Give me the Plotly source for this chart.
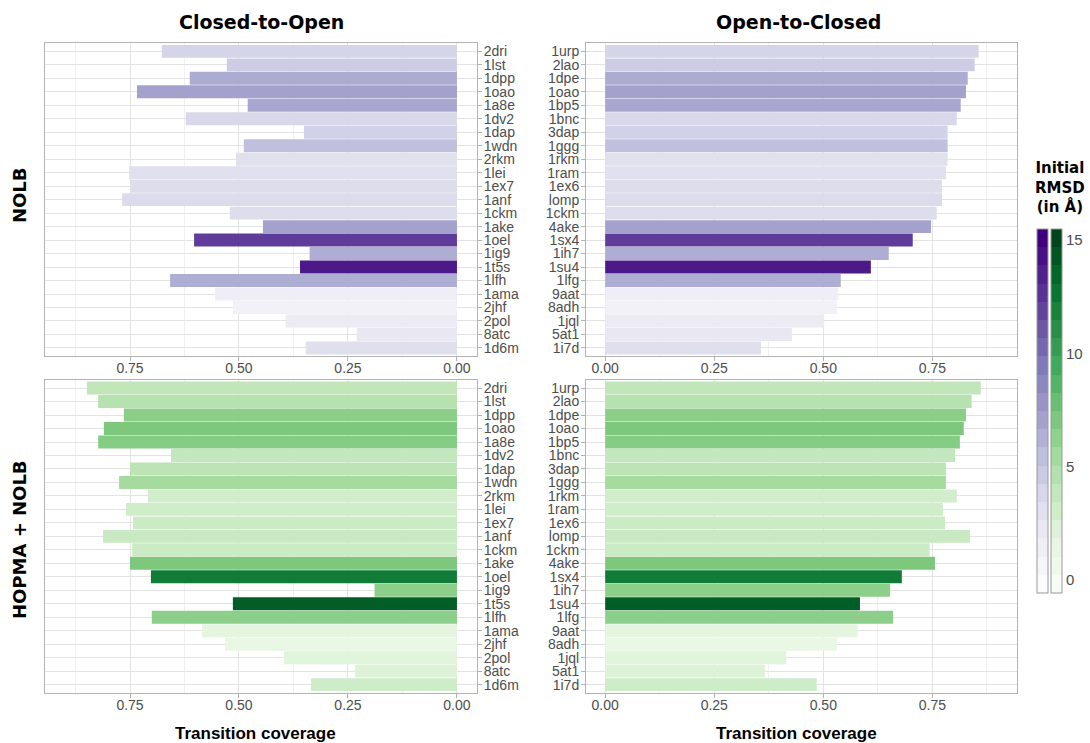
import plotly.graph_objects as go

# ---------------- data ----------------
co_labels = ['2dri', '1lst', '1dpp', '1oao', '1a8e', '1dv2', '1dap', '1wdn', '2rkm', '1lei', '1ex7', '1anf',
             '1ckm', '1ake', '1oel', '1ig9', '1t5s', '1lfh', '1ama', '2jhf', '2pol', '8atc', '1d6m']
oc_labels = ['1urp', '2lao', '1dpe', '1oao', '1bp5', '1bnc', '3dap', '1ggg', '1rkm', '1ram', '1ex6', 'lomp',
             '1ckm', '4ake', '1sx4', '1ih7', '1su4', '1lfg', '9aat', '8adh', '1jql', '5at1', '1i7d']
rmsd = [4.1, 4.6, 6.6, 7.1, 6.8, 3.9, 4.3, 5.4, 3.1, 3.2, 3.5, 3.7,
        3.5, 7.1, 12.2, 6.5, 13.8, 6.5, 1.9, 1.4, 2.1, 2.4, 3.3]
nolb_co = [0.677, 0.528, 0.613, 0.734, 0.480, 0.622, 0.351, 0.489, 0.507, 0.752, 0.749, 0.768,
           0.521, 0.445, 0.603, 0.338, 0.360, 0.658, 0.555, 0.514, 0.393, 0.230, 0.347]
nolb_oc = [0.856, 0.847, 0.831, 0.827, 0.815, 0.806, 0.785, 0.785, 0.785, 0.781, 0.772, 0.772,
           0.760, 0.747, 0.705, 0.650, 0.609, 0.540, 0.534, 0.531, 0.502, 0.428, 0.357]
hop_co = [0.849, 0.823, 0.764, 0.810, 0.823, 0.656, 0.750, 0.775, 0.709, 0.759, 0.743, 0.812,
          0.745, 0.750, 0.702, 0.189, 0.514, 0.700, 0.585, 0.532, 0.397, 0.234, 0.335]
hop_oc = [0.861, 0.840, 0.827, 0.822, 0.813, 0.802, 0.781, 0.781, 0.806, 0.774, 0.779, 0.836,
          0.744, 0.756, 0.680, 0.653, 0.584, 0.660, 0.579, 0.531, 0.415, 0.366, 0.485]
x_ticks = [0, 0.25, 0.5, 0.75]
cbar_ticks = [0, 5, 10, 15]

# ---------------- styling ----------------
# body margin is removed by a small post script, so the figure fills the window
OFF = 0
W, H = 1090, 743
purples = ['#fcfbfd', '#efedf5', '#dadaeb', '#bcbddc', '#9e9ac8', '#807dba', '#6a51a3', '#54278f', '#3f007d']
greens = ['#f7fcf5', '#e5f5e0', '#c7e9c0', '#a1d99b', '#74c476', '#41ab5d', '#238b45', '#006d2c', '#00441b']


def hex2rgb(h):
    return tuple(int(h[i:i + 2], 16) for i in (1, 3, 5))


def interp(pal, t):
    n = len(pal) - 1
    p = t * n
    i = min(int(p), n - 1)
    f = p - i
    a, b = hex2rgb(pal[i]), hex2rgb(pal[i + 1])
    c = [round(a[k] + (b[k] - a[k]) * f) for k in range(3)]
    return 'rgb(%d,%d,%d)' % tuple(c)


def smooth(pal):
    n = len(pal) - 1
    return [[i / n, c] for i, c in enumerate(pal)]


def stepped(pal, nbin=20):
    sc = []
    for i in range(nbin):
        c = interp(pal, i / (nbin - 1))
        sc.append([i / nbin, c])
        sc.append([(i + 1) / nbin, c])
    return sc


def px_x(p):
    return (p - OFF) / W


def px_y(p):
    return 1 - (p - OFF) / H


TICK_FONT = dict(family='Liberation Sans, Arial, sans-serif', size=14, color='#4d4d4d')
GRID = '#e3e3e3'
MINOR = '#f0f0f0'
BORDER = '#b3b3b3'

fig = go.Figure()

panels = [
    (nolb_co, co_labels, 'coloraxis', 'x', 'y'),
    (nolb_oc, oc_labels, 'coloraxis', 'x2', 'y2'),
    (hop_co, co_labels, 'coloraxis2', 'x3', 'y3'),
    (hop_oc, oc_labels, 'coloraxis2', 'x4', 'y4'),
]
for vals, labs, cax, xa, ya in panels:
    fig.add_trace(go.Bar(
        x=vals, y=labs, orientation='h',
        marker=dict(color=rmsd, coloraxis=cax, line=dict(width=0)),
        xaxis=xa, yaxis=ya, showlegend=False,
        hovertemplate='%{y}: %{x:.3f}<extra></extra>'))

# dummy traces carrying the stepped colourbars
fig.add_trace(go.Scatter(x=[None], y=[None], mode='markers',
                         marker=dict(color=[0], coloraxis='coloraxis3'),
                         showlegend=False, hoverinfo='skip', xaxis='x', yaxis='y'))
fig.add_trace(go.Scatter(x=[None], y=[None], mode='markers',
                         marker=dict(color=[0], coloraxis='coloraxis4'),
                         showlegend=False, hoverinfo='skip', xaxis='x', yaxis='y'))

left_dom = [px_x(45), px_x(477)]
right_dom = [px_x(586), px_x(1017)]
top_dom = [px_y(356), px_y(43.3)]
bot_dom = [px_y(692.7), px_y(380)]


def xaxis(dom, rng, anchor):
    return dict(domain=dom, range=rng, anchor=anchor, tickmode='array', tickvals=x_ticks,
                tickformat='.2f', tickfont=TICK_FONT, ticks='outside', ticklen=4, tickcolor=BORDER,
                ticklabelstandoff=-5,
                showgrid=True, gridcolor=GRID, gridwidth=1, zeroline=False,
                showline=True, mirror=True, linecolor=BORDER, linewidth=1,
                minor=dict(tickvals=[0.125, 0.375, 0.625, 0.875], showgrid=True,
                           gridcolor=MINOR, gridwidth=1, ticks=''))


def yaxis(dom, labs, anchor, side):
    return dict(domain=dom, anchor=anchor, type='category', categoryorder='array',
                categoryarray=labs, range=[22.6, -0.6], side=side,
                tickmode='array', tickvals=labs, ticktext=labs,
                tickfont=TICK_FONT, ticks='outside', ticklen=4, tickcolor=BORDER,
                ticklabelstandoff=-1,
                showgrid=True, gridcolor=GRID, gridwidth=1, zeroline=False,
                showline=True, mirror=True, linecolor=BORDER, linewidth=1)


cb_top = 229
cb_bot = 593
cb_common = dict(lenmode='fraction', len=(cb_bot - cb_top) / H, y=px_y(cb_top), yanchor='top',
                 ypad=0, xpad=0, thickness=11, xanchor='left', outlinewidth=1, outlinecolor='#9a9a9a')

fig.update_layout(
    width=W, height=H, margin=dict(l=0, r=0, t=0, b=0),
    paper_bgcolor='white', plot_bgcolor='white',
    bargap=0.04,
    xaxis=xaxis(left_dom, [0.945, -0.046], 'y'),
    xaxis2=xaxis(right_dom, [-0.044, 0.944], 'y2'),
    xaxis3=xaxis(left_dom, [0.945, -0.046], 'y3'),
    xaxis4=xaxis(right_dom, [-0.044, 0.944], 'y4'),
    yaxis=yaxis(top_dom, co_labels, 'x', 'right'),
    yaxis2=yaxis(top_dom, oc_labels, 'x2', 'left'),
    yaxis3=yaxis(bot_dom, co_labels, 'x3', 'right'),
    yaxis4=yaxis(bot_dom, oc_labels, 'x4', 'left'),
    coloraxis=dict(colorscale=smooth(purples), cmin=0, cmax=15, showscale=False),
    coloraxis2=dict(colorscale=smooth(greens), cmin=0, cmax=15, showscale=False),
    coloraxis3=dict(colorscale=stepped(purples), cmin=-0.57, cmax=15.49, showscale=True,
                    colorbar=dict(x=px_x(1037), showticklabels=False, ticks='', **cb_common)),
    coloraxis4=dict(colorscale=stepped(greens), cmin=-0.57, cmax=15.49, showscale=True,
                    colorbar=dict(x=px_x(1051), tickvals=cbar_ticks, ticks='',
                                  tickfont=dict(family='Liberation Sans, Arial, sans-serif',
                                                size=15, color='#4d4d4d'), **cb_common)),
)

TITLE_FONT = dict(family='DejaVu Sans', size=19, color='black')
ROW_FONT = dict(family='DejaVu Sans', size=18, color='black')
AX_FONT = dict(family='Liberation Sans, Arial, sans-serif', size=17, color='black')
ann = [
    dict(text='<b>Closed-to-Open</b>', x=px_x(261), y=px_y(22), font=TITLE_FONT),
    dict(text='<b>Open-to-Closed</b>', x=px_x(798), y=px_y(22), font=TITLE_FONT),
    dict(text='<b>NOLB</b>', x=px_x(19), y=px_y(195), textangle=-90, font=ROW_FONT),
    dict(text='<b>HOPMA + NOLB</b>', x=px_x(19), y=px_y(540), textangle=-90, font=ROW_FONT),
    dict(text='<b>Transition coverage</b>', x=px_x(255), y=px_y(733), font=AX_FONT),
    dict(text='<b>Transition coverage</b>', x=px_x(796), y=px_y(733), font=AX_FONT),
    dict(text='<b>Initial<br>RMSD<br>(in Å)</b>', x=px_x(1060), y=px_y(187),
         font=dict(family='DejaVu Sans', size=15, color='black')),
]
for a in ann:
    a.update(xref='paper', yref='paper', showarrow=False, xanchor='center', yanchor='middle')
fig.update_layout(annotations=ann)

fig.write_html('out.html',
               config={'displayModeBar': False},
               post_script="document.body.style.margin='0';"
                           "document.body.style.overflow='hidden';"
                           "document.documentElement.style.overflow='hidden';")
